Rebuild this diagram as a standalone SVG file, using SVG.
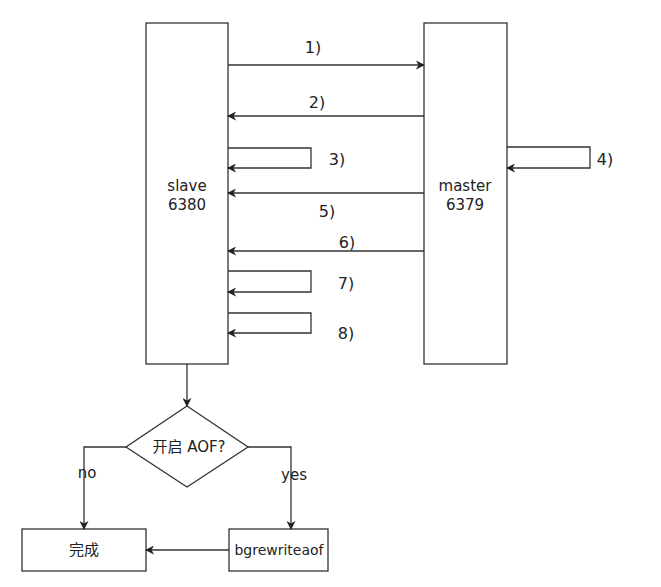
<svg xmlns="http://www.w3.org/2000/svg" width="661" height="587" viewBox="0 0 661 587">
<style>
.box{fill:#fff;stroke:#333;stroke-width:1.3}
.ln{fill:none;stroke:#333;stroke-width:1.3}
text{font-family:"Comic Sans MS","DejaVu Sans","Noto Sans CJK SC",sans-serif;font-size:15px;fill:#222;text-anchor:middle;dominant-baseline:central}
.lb{font-size:16px}
.sm{font-size:14px}
</style>
<defs>
<marker id="ah" viewBox="0 0 10 10" refX="9" refY="5" markerWidth="9" markerHeight="9" markerUnits="userSpaceOnUse" orient="auto">
<path d="M0,0 L10,5 L0,10 L3,5 Z" fill="#222"/>
</marker>
</defs>
<rect width="661" height="587" fill="#fff"/>
<g id="slave"><rect class="box" x="146" y="23" width="82" height="341"/><text x="187" y="186">slave</text><text x="187" y="205">6380</text></g>
<g id="master"><rect class="box" x="424" y="23" width="83" height="341"/><text x="465" y="186">master</text><text x="465" y="205">6379</text></g>
<g id="decision"><polygon class="box" points="187,406 248,447 187,487 126,447"/><text x="189" y="447">开启 AOF?</text></g>
<g id="done"><rect class="box" x="22" y="529" width="124" height="42"/><text x="84" y="550">完成</text></g>
<g id="bgrewriteaof"><rect class="box" x="229" y="529" width="99" height="42"/><text class="sm" x="279" y="550">bgrewriteaof</text></g>
<g id="connectors">
<line class="ln" x1="228" y1="65" x2="424" y2="65" marker-end="url(#ah)"/>
<text class="lb" x="313" y="47">1)</text>
<line class="ln" x1="424" y1="116" x2="228" y2="116" marker-end="url(#ah)"/>
<text class="lb" x="317" y="102">2)</text>
<polyline class="ln" points="228,148 311,148 311,168 228,168" marker-end="url(#ah)"/>
<text class="lb" x="337" y="159">3)</text>
<polyline class="ln" points="507,147 590,147 590,168 507,168" marker-end="url(#ah)"/>
<text class="lb" x="605" y="159">4)</text>
<line class="ln" x1="424" y1="193" x2="228" y2="193" marker-end="url(#ah)"/>
<text class="lb" x="327" y="211">5)</text>
<line class="ln" x1="424" y1="251" x2="228" y2="251" marker-end="url(#ah)"/>
<text class="lb" x="347" y="242">6)</text>
<polyline class="ln" points="228,271 311,271 311,292 228,292" marker-end="url(#ah)"/>
<text class="lb" x="346" y="283">7)</text>
<polyline class="ln" points="228,313 311,313 311,333 228,333" marker-end="url(#ah)"/>
<text class="lb" x="346" y="333">8)</text>
<line class="ln" x1="187" y1="364" x2="187" y2="406" marker-end="url(#ah)"/>
<polyline class="ln" points="126,447 84,447 84,529" marker-end="url(#ah)"/>
<text x="87" y="473">no</text>
<polyline class="ln" points="248,447 291,447 291,529" marker-end="url(#ah)"/>
<text x="294" y="475">yes</text>
<line class="ln" x1="229" y1="550" x2="146" y2="550" marker-end="url(#ah)"/>
</g>
</svg>
